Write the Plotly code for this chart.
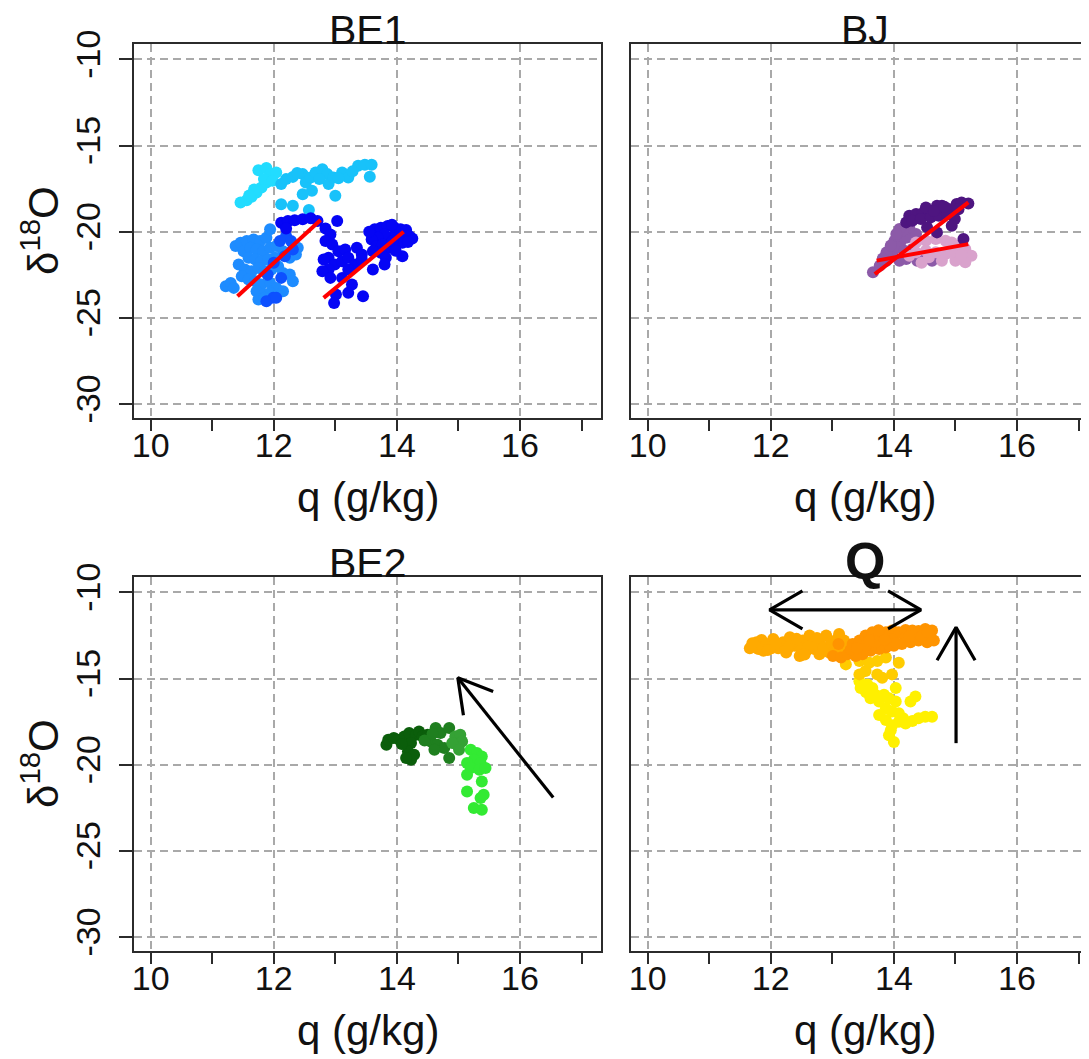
import math
import plotly.graph_objects as go

# ---------------- data ----------------
x_ticks = [10, 12, 14, 16]
x_tick_labels = ["10", "12", "14", "16"]
x_minor_ticks = [11, 13, 15, 17]
y_ticks = [-30, -25, -20, -15, -10]
y_tick_labels = ["-30", "-25", "-20", "-15", "-10"]
panel_titles = ["BE1", "BJ", "BE2", "Q"]
x_title = "q (g/kg)"
y_title = "δ<sup>18</sup>O"

# BE1
be1_c1_x = [11.46, 11.56, 11.64, 11.72, 11.80, 11.88, 11.75, 11.88, 11.94, 12.04, 11.68, 11.60, 11.84, 11.98]
be1_c1_y = [-18.31, -18.17, -17.98, -17.73, -17.44, -17.15, -16.43, -16.31, -16.66, -16.56, -17.55, -17.90, -16.95, -17.05]
be1_c2_x = [12.12, 12.20, 12.31, 12.47, 12.52, 12.60, 12.62, 12.68, 12.79, 12.87, 12.89, 13.00, 12.97, 13.11,
            13.21, 13.37, 13.48, 13.59, 13.56, 12.47, 12.12, 12.31, 12.57, 12.38, 12.74, 13.05, 13.28]
be1_c2_y = [-17.24, -16.95, -16.82, -16.66, -17.15, -16.85, -17.63, -16.56, -16.37, -16.66, -17.24, -17.92, -16.85, -16.56,
            -16.85, -16.17, -16.11, -16.11, -16.81, -17.83, -18.41, -18.50, -18.74, -16.60, -16.95, -16.90, -16.50]
be1_sky_x = [11.22, 11.30, 11.38, 11.46, 11.56, 11.67, 11.78, 11.88, 11.94, 11.51, 11.62, 11.72, 11.83, 11.94, 12.04,
             11.59, 11.70, 11.80, 11.91, 12.02, 11.43, 11.53, 11.64, 11.75, 11.85, 11.96, 12.07, 12.15, 12.26, 12.31,
             11.48, 11.59, 11.70, 11.80, 11.94, 12.04, 12.15, 11.72, 11.83, 11.94, 11.75, 11.85, 11.35, 12.15, 12.26,
             12.36, 12.39]
be1_sky_y = [-23.17, -22.97, -20.83, -20.64, -20.54, -20.45, -20.54, -20.35, -19.86, -21.13, -20.93, -21.03, -21.13, -20.93, -20.83,
             -21.51, -21.61, -21.71, -21.61, -21.51, -21.90, -22.19, -22.29, -22.10, -22.29, -22.19, -22.00, -22.39, -22.49, -22.87,
             -22.58, -22.78, -22.87, -23.07, -22.97, -23.26, -23.46, -23.46, -23.65, -23.55, -23.94, -23.84, -23.26, -21.13, -21.51,
             -21.32, -20.93]
be1_mid_x = [12.10, 12.20, 12.28, 12.31, 12.18, 12.12, 11.99, 11.88, 12.04, 12.00, 11.90]
be1_mid_y = [-20.54, -20.25, -20.54, -21.03, -21.42, -22.68, -23.84, -24.04, -23.84, -21.80, -22.50]
be1_dark_x = [12.12, 12.23, 12.34, 12.47, 12.60, 12.71, 12.20, 13.03, 12.84, 12.92, 12.84, 12.95, 13.05, 13.16, 12.89,
              12.81, 12.99, 13.11, 13.21, 13.35, 13.43, 13.32, 12.89, 12.79, 12.92, 13.11, 13.21, 13.61, 13.27, 13.01,
              13.21, 13.45, 12.98, 13.43, 13.64, 13.74, 13.85, 13.96, 14.06, 14.20, 14.25, 14.12, 14.01, 13.90, 13.80,
              13.69, 13.59, 13.67, 13.77, 13.88, 13.98, 14.09, 13.74, 13.82, 13.80, 14.09, 13.93, 13.61, 14.15, 13.92,
              14.18, 13.55, 13.98]
be1_dark_y = [-19.48, -19.38, -19.34, -19.28, -19.22, -19.38, -19.81, -19.38, -19.81, -20.16, -20.54, -20.74, -21.13, -21.03, -21.51,
              -21.61, -21.90, -21.71, -21.51, -20.93, -21.32, -21.90, -22.19, -22.29, -22.68, -22.68, -22.19, -22.19, -23.07, -23.65,
              -23.55, -23.75, -24.14, -21.61, -19.86, -19.77, -19.67, -19.77, -19.86, -20.25, -20.39, -20.16, -20.35, -20.35, -20.16,
              -20.35, -20.45, -20.83, -20.74, -20.93, -20.74, -20.64, -21.22, -21.51, -21.90, -21.42, -20.54, -21.13, -19.90, -19.60,
              -20.60, -20.00, -21.10]
be1_fit_x = [[11.41, 12.76], [12.81, 14.11]]
be1_fit_y = [[-23.75, -19.32], [-23.84, -20.00]]

# BJ
bj_dark_x = [14.25, 14.36, 14.46, 14.57, 14.70, 14.78, 14.89, 15.02, 15.10, 15.21, 14.20, 14.30, 14.44, 14.60, 14.73,
             14.86, 14.99, 14.94, 14.70, 15.13, 14.54, 14.52, 14.65, 14.82, 15.05]
bj_dark_y = [-19.07, -18.97, -18.94, -18.78, -18.49, -18.49, -18.68, -18.39, -18.30, -18.36, -19.46, -19.36, -19.27, -19.17, -19.07,
             -18.97, -19.27, -19.65, -20.04, -20.43, -19.75, -18.60, -18.80, -18.55, -18.70]
bj_mid_x = [13.66, 13.77, 13.88, 13.98, 14.09, 14.20, 14.01, 14.12, 14.22, 14.36, 14.06, 14.17, 14.30, 13.88, 14.38,
            14.49, 14.62, 14.25, 14.14, 14.09, 14.04, 13.95, 13.82]
bj_mid_y = [-22.36, -21.97, -21.68, -21.39, -21.68, -21.59, -20.52, -20.52, -20.33, -20.14, -20.91, -21.10, -21.01, -21.20, -21.68,
            -21.59, -21.68, -19.75, -19.94, -19.85, -20.14, -20.80, -21.55]
bj_pink_x = [14.36, 14.52, 14.68, 14.84, 14.94, 15.05, 15.16, 15.26, 15.16, 15.00, 14.84, 14.68, 14.52, 14.57, 14.78,
             14.94, 14.36, 14.25, 15.10, 14.45]
bj_pink_y = [-20.62, -20.52, -20.43, -20.52, -20.62, -20.81, -21.01, -21.39, -21.78, -21.68, -21.30, -21.20, -21.10, -21.49, -21.68,
             -21.20, -21.20, -21.39, -21.35, -21.80]
bj_fit_x = [[13.69, 15.21], [13.72, 15.21]]
bj_fit_y = [[-22.46, -18.30], [-21.68, -20.72]]

# BE2
be2_dark_x = [13.83, 13.86, 14.04, 14.12, 14.20, 14.31, 14.23, 14.18, 14.23, 14.28, 14.15, 14.36, 14.42, 14.50, 13.95, 14.08]
be2_dark_y = [-18.84, -18.55, -18.55, -18.36, -18.16, -18.26, -18.74, -19.23, -19.71, -19.42, -19.61, -18.07, -18.36, -18.26, -18.45, -18.80]
be2_mid_x = [14.63, 14.71, 14.55, 14.66, 14.77, 14.85, 14.85, 14.61, 14.45, 14.58]
be2_mid_y = [-17.87, -18.16, -18.65, -18.84, -19.03, -17.87, -19.61, -19.13, -18.60, -18.20]
be2_light_x = [14.95, 15.03, 14.98, 15.06, 14.90, 15.01]
be2_light_y = [-18.36, -18.26, -18.84, -18.65, -18.74, -19.13]
be2_bright_x = [15.20, 15.30, 15.38, 15.25, 15.36, 15.14, 15.20, 15.34, 15.44, 15.14, 15.38, 15.14, 15.36, 15.41, 15.25, 15.38]
be2_bright_y = [-19.13, -19.32, -19.52, -19.71, -19.90, -19.90, -20.19, -20.29, -20.19, -20.58, -20.97, -21.55, -21.93, -21.74, -22.51, -22.61]
be2_arrow_x = [16.54, 14.99]   # tail, tip
be2_arrow_y = [-21.91, -14.95]

# Q
q_light_x = [11.66, 11.77, 11.85, 11.93, 12.04, 12.12, 12.20, 12.31, 12.39, 12.47, 12.52, 12.63, 12.71, 12.79, 12.90, 12.95,
             13.03, 13.11, 13.19, 11.80, 11.88, 12.25, 12.58, 12.79, 12.01, 12.49, 11.72, 12.15, 12.35, 12.68, 12.85, 13.08,
             11.70, 11.95, 12.08, 12.28, 12.42, 12.60, 12.75, 12.98, 13.15, 12.55]
q_light_y = [-13.24, -12.90, -12.76, -13.00, -12.71, -13.24, -12.90, -12.61, -13.10, -13.69, -12.80, -12.51, -13.29, -12.90, -12.51, -13.49,
             -13.10, -12.41, -12.80, -13.29, -13.39, -13.49, -13.39, -13.59, -13.24, -13.24, -13.05, -13.05, -12.85, -13.00, -13.20, -12.70,
             -12.95, -13.35, -12.95, -13.25, -12.70, -13.15, -12.65, -12.85, -13.35, -13.60]
q_orange_x = [13.01, 13.14, 13.25, 13.33, 13.44, 13.54, 13.65, 13.76, 13.87, 13.97, 14.08, 14.19, 14.30, 14.40, 14.51, 14.62,
              14.65, 14.54, 14.40, 14.27, 14.13, 14.00, 13.87, 13.76, 13.62, 13.49, 13.38, 13.97, 14.19, 13.54, 14.35, 14.58,
              13.70, 13.30, 13.10, 13.40, 13.60, 13.85, 14.05, 14.25, 14.45, 14.55, 13.75]
q_orange_y = [-13.69, -13.78, -13.59, -13.00, -12.80, -12.51, -12.31, -12.51, -12.31, -12.22, -12.31, -12.18, -12.22, -12.25, -12.12, -12.22,
              -12.80, -12.90, -12.80, -12.90, -13.00, -13.10, -13.20, -13.29, -13.39, -13.59, -13.69, -12.71, -12.61, -13.10, -12.50, -12.50,
              -12.90, -13.30, -13.00, -13.25, -12.80, -12.75, -12.95, -12.55, -12.55, -12.30, -12.20]
q_gold_x = [13.22, 13.44, 13.60, 13.73, 13.87, 14.08, 13.44, 13.54, 13.73, 13.81, 13.97]
q_gold_y = [-14.18, -13.98, -14.08, -13.98, -13.78, -14.08, -14.76, -14.57, -14.76, -14.96, -14.76]
q_yellow_x = [13.44, 13.46, 13.57, 13.65, 13.70, 13.62, 13.76, 13.84, 13.92, 14.03, 13.87, 13.97, 14.08, 13.76, 13.87,
              13.97, 14.08, 14.19, 14.30, 14.40, 14.51, 14.62, 13.92, 14.00, 14.35, 14.27, 14.03, 13.55, 13.95, 14.15]
q_yellow_y = [-15.16, -15.55, -15.35, -15.55, -15.94, -16.14, -16.33, -15.94, -16.14, -16.33, -16.73, -16.92, -17.02, -17.12, -17.41,
              -17.71, -17.51, -17.61, -17.47, -17.31, -17.22, -17.22, -18.29, -18.69, -16.04, -16.33, -15.55, -15.80, -18.00, -17.30]
q_harrow_x = [11.98, 14.44]
q_harrow_y = [-11.02, -11.02]
q_varrow_x = [15.01, 15.01]   # tail, tip
q_varrow_y = [-18.75, -12.03]

# ---------------- layout constants (screen pixels) ----------------
SCREEN_W, SCREEN_H = 1089, 1059
OFF = 8                      # page body margin
W, H = SCREEN_W - OFF, SCREEN_H - OFF
FONT = "Liberation Sans, Arial, Helvetica, sans-serif"
LEFT_PX = (134, 601)
RIGHT_PX = (631, 1089)
TOP_PX = (44, 418)
BOT_PX = (577, 951)
X0 = 9.729
PX_PER_X = 61.55
X_RANGE_L = [X0, X0 + (LEFT_PX[1] - LEFT_PX[0]) / PX_PER_X]
X_RANGE_R = [X0, X0 + (RIGHT_PX[1] - RIGHT_PX[0]) / PX_PER_X]
Y_RANGE = [-30.81, -9.11]
PX_PER_Y = (TOP_PX[1] - TOP_PX[0]) / (Y_RANGE[1] - Y_RANGE[0])
AXC = "#2b2b2b"
GRIDC = "#a9a9a9"
MSIZE = 12


def xdom(px):
    return [(px[0] - OFF) / W, min(1.0, (px[1] - OFF) / W)]


def ydom(px):
    return [1 - (px[1] - OFF) / H, 1 - (px[0] - OFF) / H]


fig = go.Figure()


def pts(x, y, color, ax):
    fig.add_trace(go.Scatter(x=x, y=y, mode="markers", xaxis="x" + ax, yaxis="y" + ax,
                             marker=dict(color=color, size=MSIZE, line=dict(width=0)),
                             showlegend=False, hoverinfo="skip"))


def fits(fx, fy, ax):
    for xs, ys in zip(fx, fy):
        fig.add_trace(go.Scatter(x=xs, y=ys, mode="lines", xaxis="x" + ax, yaxis="y" + ax,
                                 line=dict(color="#ff0000", width=4), showlegend=False, hoverinfo="skip"))


def head(xt, yt, xb, yb, L=38, ang=math.radians(30)):
    # barbs at tip (xt, yt), pointing back towards (xb, yb); computed in pixel space
    vx = (xb - xt) * PX_PER_X
    vy = (yb - yt) * PX_PER_Y
    a = math.atan2(vy, vx)
    b1 = (xt + L * math.cos(a + ang) / PX_PER_X, yt + L * math.sin(a + ang) / PX_PER_Y)
    b2 = (xt + L * math.cos(a - ang) / PX_PER_X, yt + L * math.sin(a - ang) / PX_PER_Y)
    return [b1[0], xt, b2[0]], [b1[1], yt, b2[1]]


def arrow(ax_, ay_, ax, double=False):
    xs = [ax_[0], ax_[1], None]
    ys = [ay_[0], ay_[1], None]
    hx, hy = head(ax_[1], ay_[1], ax_[0], ay_[0])
    xs += hx + [None]
    ys += hy + [None]
    if double:
        hx, hy = head(ax_[0], ay_[0], ax_[1], ay_[1])
        xs += hx
        ys += hy
    fig.add_trace(go.Scatter(x=xs, y=ys, mode="lines", xaxis="x" + ax, yaxis="y" + ax,
                             line=dict(color="#000000", width=3.2), showlegend=False, hoverinfo="skip"))


# Panel 1: BE1
pts(be1_c1_x, be1_c1_y, "#22dcff", "")
pts(be1_c2_x, be1_c2_y, "#18c2fa", "")
pts(be1_sky_x, be1_sky_y, "#1e8cff", "")
pts(be1_mid_x, be1_mid_y, "#0d50ff", "")
pts(be1_dark_x, be1_dark_y, "#0505f5", "")
fits(be1_fit_x, be1_fit_y, "")

# Panel 2: BJ
pts(bj_mid_x, bj_mid_y, "#8c5aa8", "2")
pts(bj_pink_x, bj_pink_y, "#d9a2cc", "2")
pts(bj_dark_x, bj_dark_y, "#4e1580", "2")
fits(bj_fit_x, bj_fit_y, "2")

# Panel 3: BE2
pts(be2_dark_x, be2_dark_y, "#0b5e0b", "3")
pts(be2_mid_x, be2_mid_y, "#1f7f1f", "3")
pts(be2_light_x, be2_light_y, "#35a235", "3")
pts(be2_bright_x, be2_bright_y, "#33ea33", "3")
arrow(be2_arrow_x, be2_arrow_y, "3")

# Panel 4: Q
pts(q_yellow_x, q_yellow_y, "#fff000", "4")
pts(q_gold_x, q_gold_y, "#ffcc00", "4")
pts(q_light_x, q_light_y, "#ffaa00", "4")
pts(q_orange_x, q_orange_y, "#ff9400", "4")
arrow(q_harrow_x, q_harrow_y, "4", double=True)
arrow(q_varrow_x, q_varrow_y, "4")


def xaxis(dom, rng, anchor):
    return dict(domain=xdom(dom), range=rng, anchor=anchor,
                tickmode="array", tickvals=x_ticks, ticktext=x_tick_labels,
                ticks="outside", ticklen=11, tickwidth=1.5, tickcolor=AXC,
                ticklabelstandoff=-15,
                minor=dict(tickmode="array", tickvals=x_minor_ticks, ticks="outside", ticklen=11,
                           tickwidth=1.5, tickcolor=AXC, showgrid=False),
                showline=True, linecolor=AXC, linewidth=2, mirror=True,
                showgrid=True, gridcolor=GRIDC, gridwidth=1.5, griddash="8px,5px",
                zeroline=False, tickfont=dict(family=FONT, size=34, color="#111111"),
                fixedrange=True, automargin=False)


def yaxis(dom, anchor, labels):
    return dict(domain=ydom(dom), range=Y_RANGE, anchor=anchor,
                tickmode="array", tickvals=y_ticks, ticktext=y_tick_labels,
                ticks="outside" if labels else "", ticklen=13, tickwidth=1.5, tickcolor=AXC,
                showticklabels=labels, tickangle=-90, ticklabelstandoff=5,
                showline=True, linecolor=AXC, linewidth=2, mirror=labels,
                showgrid=True, gridcolor=GRIDC, gridwidth=1.5, griddash="8px,5px",
                zeroline=False, tickfont=dict(family=FONT, size=34, color="#111111"),
                fixedrange=True, automargin=False)


annotations = []


def ann(text, px, py, size, angle=0, bold=False):
    annotations.append(dict(text=("<b>%s</b>" % text) if bold else text,
                            x=(px - OFF) / W, y=1 - (py - OFF) / H,
                            xref="paper", yref="paper", xanchor="center", yanchor="middle",
                            showarrow=False, textangle=angle,
                            font=dict(family=FONT, size=size, color="#111111")))


lc = (LEFT_PX[0] + LEFT_PX[1]) / 2
rc = (631 + 1098) / 2
ann(panel_titles[0], lc, 30, 41)
ann(panel_titles[1], rc, 30, 41)
ann(panel_titles[2], lc, 563, 41)
ann(panel_titles[3], rc, 561, 52, bold=True)
for cx in (lc, rc):
    ann(x_title, cx, 497, 42)
    ann(x_title, cx, 1030, 42)
ann(y_title, 40, (TOP_PX[0] + TOP_PX[1]) / 2, 42, angle=-90)
ann(y_title, 40, (BOT_PX[0] + BOT_PX[1]) / 2, 42, angle=-90)

fig.update_layout(
    width=W, height=H,
    margin=dict(l=0, r=0, t=0, b=0),
    paper_bgcolor="white", plot_bgcolor="white",
    showlegend=False,
    xaxis=xaxis(LEFT_PX, X_RANGE_L, "y"),
    yaxis=yaxis(TOP_PX, "x", True),
    xaxis2=xaxis(RIGHT_PX, X_RANGE_R, "y2"),
    yaxis2=yaxis(TOP_PX, "x2", False),
    xaxis3=xaxis(LEFT_PX, X_RANGE_L, "y3"),
    yaxis3=yaxis(BOT_PX, "x3", True),
    xaxis4=xaxis(RIGHT_PX, X_RANGE_R, "y4"),
    yaxis4=yaxis(BOT_PX, "x4", False),
    annotations=annotations,
)

fig.write_html("out.html")
